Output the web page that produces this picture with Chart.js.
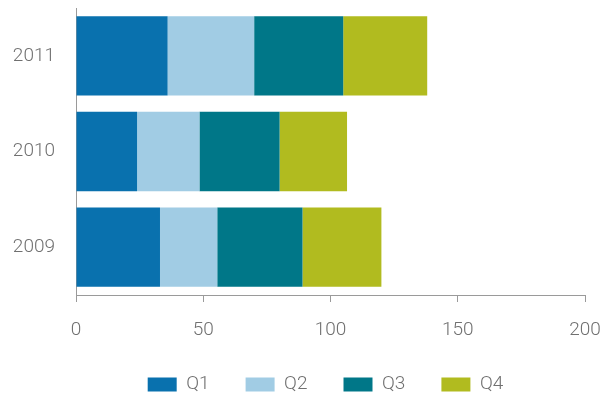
<!DOCTYPE html>
<html>
<head>
<meta charset="utf-8">
<script src="https://cdn.jsdelivr.net/npm/chart.js@4/dist/chart.umd.min.js"></script>
<style>
  html, body { margin: 0; padding: 0; background: #fff; }
  #wrap { width: 603px; height: 394px; position: relative; }
</style>
</head>
<body>
<div id="wrap"><canvas id="c" width="603" height="394"></canvas></div>
<script>
const years = ['2011', '2010', '2009'];
const q1 = [36, 24, 33];
const q2 = [34, 24.5, 22.5];
const q3 = [35, 31.5, 33.5];
const q4 = [33, 26.5, 31];
const seriesNames = ['Q1', 'Q2', 'Q3', 'Q4'];
const seriesColors = ['#0971AE', '#A1CCE4', '#007788', '#B1BB1F'];
const xTicks = [0, 50, 100, 150, 200];

const FONT = "Roboto, 'Liberation Sans', sans-serif";
const TXT = '#707070';
const AX = '#9a9a9a';

const legendShift = {
  id: 'legendShift',
  afterUpdate(chart) {
    const lg = chart.legend;
    if (lg) { lg.left += 27; lg.right += 27; }
  }
};

new Chart(document.getElementById('c'), {
  type: 'bar',
  data: {
    labels: years,
    datasets: [q1, q2, q3, q4].map((d, i) => ({
      label: seriesNames[i],
      data: d,
      backgroundColor: seriesColors[i],
      borderWidth: 0,
      barPercentage: 0.83,
      categoryPercentage: 1.0
    }))
  },
  options: {
    indexAxis: 'y',
    responsive: false,
    animation: false,
    devicePixelRatio: 1,
    layout: { padding: { left: 12, right: 18, top: 8, bottom: -10 } },
    scales: {
      x: {
        stacked: true,
        min: 0, max: 200,
        afterBuildTicks: (s) => { s.ticks = xTicks.map(v => ({ value: v })); },
        afterFit: (s) => { s.paddingLeft = 0; s.paddingRight = 0; s.height = 44; },
        grid: { display: true, drawOnChartArea: false, drawTicks: true, tickLength: 7, color: AX, lineWidth: 1 },
        border: { display: true, color: AX, width: 1 },
        ticks: { color: TXT, font: { family: FONT, size: 19, weight: 300 }, padding: 17, maxRotation: 0 }
      },
      y: {
        stacked: true,
        afterFit: (s) => { s.paddingTop = 0; s.paddingBottom = 0; s.width = 64; },
        grid: { display: false, drawTicks: false },
        border: { display: true, color: AX, width: 1 },
        ticks: { color: TXT, font: { family: FONT, size: 19, weight: 300 }, padding: 21 }
      }
    },
    plugins: {
      legend: {
        position: 'bottom',
        labels: {
          boxWidth: 29, boxHeight: 14, padding: 36,
          color: TXT, font: { family: FONT, size: 19, weight: 300 }
        }
      },
      tooltip: { enabled: false }
    }
  },
  plugins: [legendShift]
});
</script>
</body>
</html>
